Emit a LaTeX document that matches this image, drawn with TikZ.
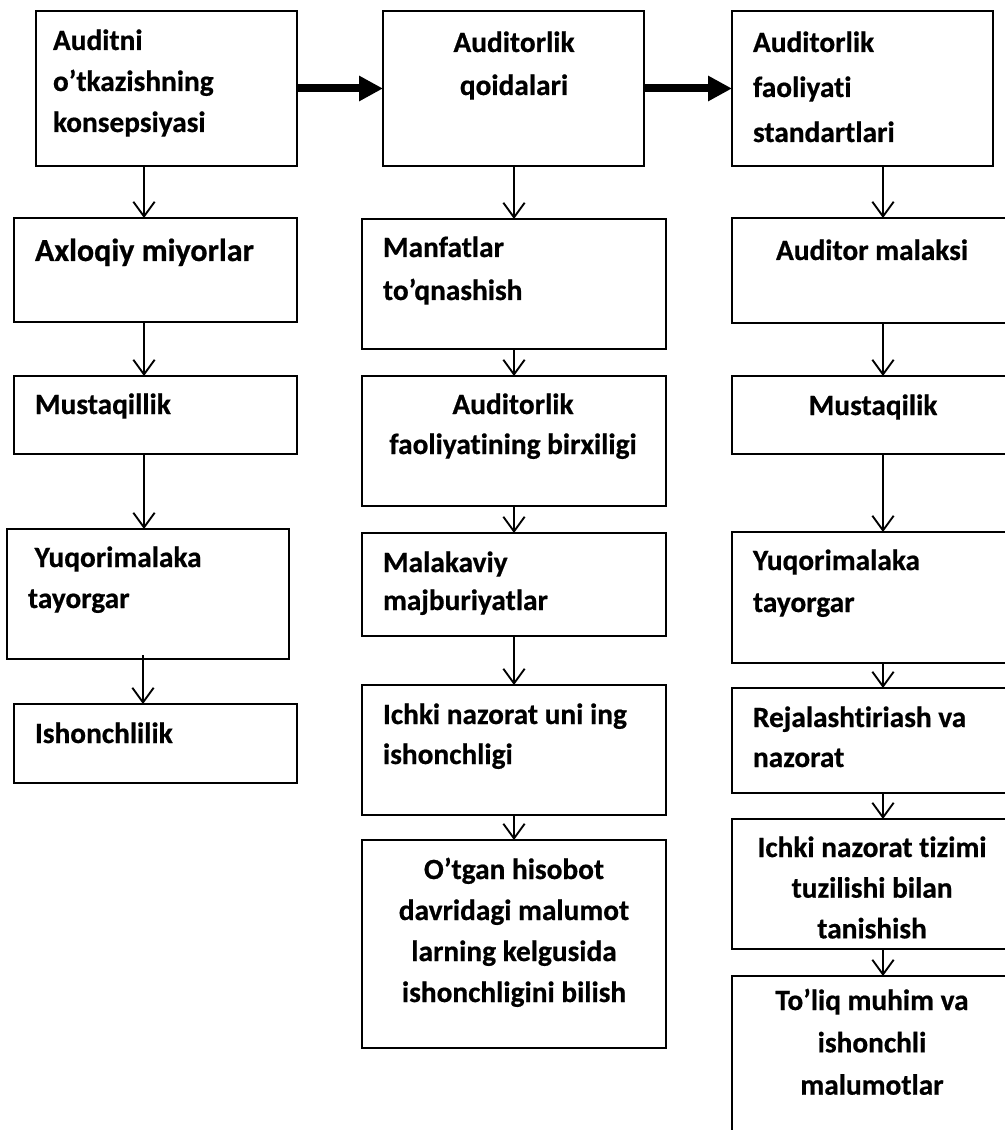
\documentclass[tikz,border=0pt]{standalone}
\usepackage{fontspec}
\setmainfont{Carlito}[Ligatures=NoCommon, BoldFeatures={FakeBold=0.6}]
\usetikzlibrary{arrows.meta}
\newcommand\tstrut{\rule{0pt}{21pt}}
\newcommand\bx[5]{\node[box, minimum width={(#4-#2)*0.75pt}, minimum height={(#5-#3)*0.75pt}] (#1) at (#2,#3) {};}
\begin{document}
\begin{tikzpicture}[x=0.75pt,y=-0.75pt,
  box/.style={draw, line width=1.6pt, inner sep=0pt, outer sep=0pt, anchor=north west},
  lsp/.style={inner sep=0pt, outer sep=0pt, font=\bfseries\fontsize{22pt}{#1}\selectfont},
  lt/.style={lsp=#1, align=left, anchor=north west},
  ct/.style={lsp=#1, align=center, anchor=north},
  thinarr/.style={line width=1.4pt, -{Straight Barb[length=11pt,width=16pt]}},
  thickarr/.style={line width=6pt, -{Triangle[length=18pt,width=18pt]}}]
\useasboundingbox (0,0) rectangle (1005,1130);
\clip (0,0) rectangle (1005,1130);
% boxes
\bx{L1}{36}{11}{297}{166}
\bx{M1}{383}{11}{644}{166}
\bx{R1}{732}{11}{993}{166}
\bx{L2}{14}{218}{297}{322}
\bx{L3}{14}{376}{297}{454}
\bx{L4}{7}{529}{289}{659}
\bx{L5}{14}{704}{297}{783}
\bx{M2}{362}{219}{666}{349}
\bx{M3}{362}{376}{666}{506}
\bx{M4}{362}{533}{666}{636}
\bx{M5}{362}{685}{666}{815}
\bx{M6}{362}{840}{666}{1048}
\bx{R2}{732}{218}{1012}{323}
\bx{R3}{732}{376}{1012}{454}
\bx{R4}{732}{532}{1012}{663}
\bx{R5}{732}{688}{1012}{793}
\bx{R6}{732}{819}{1012}{949}
\bx{R7}{732}{976}{1012}{1140}
% texts
\node[lt=30.75pt] (tL1) at (53,{50-28}) {\tstrut Auditni\\o’tkazishning\\konsepsiyasi};
\node[ct=32.25pt] (tM1) at (514,{52-28}) {\tstrut Auditorlik\\qoidalari};
\node[lt=33.75pt] (tR1) at (753,{52-28}) {\tstrut Auditorlik\\faoliyati\\standartlari};
\node[lt=30.75pt, font=\bfseries\fontsize{24pt}{30pt}\selectfont] (tL2) at (35,{261-28}) {\tstrut Axloqiy miyorlar};
\node[lt=30.75pt] (tL3) at (35,{414-28}) {\tstrut Mustaqillik};
\node[lt=30.75pt] (tL4) at (28,{567-28}) {\tstrut\hspace*{5pt}Yuqorimalaka\\tayorgar};
\node[lt=30.75pt] (tL5) at (35,{743-28}) {\tstrut Ishonchlilik};
\node[lt=32.25pt] (tM2) at (383,{257-28}) {\tstrut Manfatlar\\to’qnashish};
\node[ct=30pt] (tM3) at (513,{414-28}) {\tstrut Auditorlik\\faoliyatining birxiligi};
\node[lt=28.5pt] (tM4) at (383,{572-28}) {\tstrut Malakaviy\\majburiyatlar};
\node[lt=30pt] (tM5) at (383,{724-28}) {\tstrut Ichki nazorat uni ing\\ishonchligi};
\node[ct=30.75pt] (tM6) at (514,{879-28}) {\tstrut O’tgan hisobot\\davridagi malumot\\larning kelgusida\\ishonchligini bilish};
\node[ct=30pt] (tR2) at (872,{260-28}) {\tstrut Auditor malaksi};
\node[ct=30pt] (tR3) at (873,{415-28}) {\tstrut Mustaqilik};
\node[lt=31.5pt] (tR4) at (753,{570-28}) {\tstrut Yuqorimalaka\\tayorgar};
\node[lt=30pt] (tR5) at (753,{727-28}) {\tstrut Rejalashtiriash va\\nazorat};
\node[ct=30.5pt] (tR6) at (872,{857-28}) {\tstrut Ichki nazorat tizimi\\tuzilishi bilan\\tanishish};
\node[ct=31.75pt] (tR7) at (872,{1010-28}) {\tstrut To’liq muhim va\\ishonchli\\malumotlar};
% column x coordinates
\coordinate (xl) at (144,0);
\coordinate (xl4) at (143,0);
\coordinate (xm) at (514,0);
\coordinate (xr) at (883,0);
% thick arrows
\draw[thickarr] (L1.east) -- (M1.west);
\draw[thickarr] (M1.east) -- (R1.west);
% thin arrows left
\draw[thinarr] (L1.south -| xl) -- (L2.north -| xl);
\draw[thinarr] (L2.south -| xl) -- (L3.north -| xl);
\draw[thinarr] (L3.south -| xl) -- (L4.north -| xl);
\draw[thinarr] ([yshift=3pt]L4.south -| xl4) -- (L5.north -| xl4);
% thin arrows middle
\draw[thinarr] (M1.south -| xm) -- (M2.north -| xm);
\draw[thinarr] (M2.south -| xm) -- (M3.north -| xm);
\draw[thinarr] (M3.south -| xm) -- (M4.north -| xm);
\draw[thinarr] (M4.south -| xm) -- (M5.north -| xm);
\draw[thinarr] (M5.south -| xm) -- (M6.north -| xm);
% thin arrows right
\draw[thinarr] (R1.south -| xr) -- (R2.north -| xr);
\draw[thinarr] (R2.south -| xr) -- (R3.north -| xr);
\draw[thinarr] (R3.south -| xr) -- (R4.north -| xr);
\draw[thinarr] (R4.south -| xr) -- (R5.north -| xr);
\draw[thinarr] (R5.south -| xr) -- (R6.north -| xr);
\draw[thinarr] (R6.south -| xr) -- (R7.north -| xr);
\end{tikzpicture}
\end{document}
